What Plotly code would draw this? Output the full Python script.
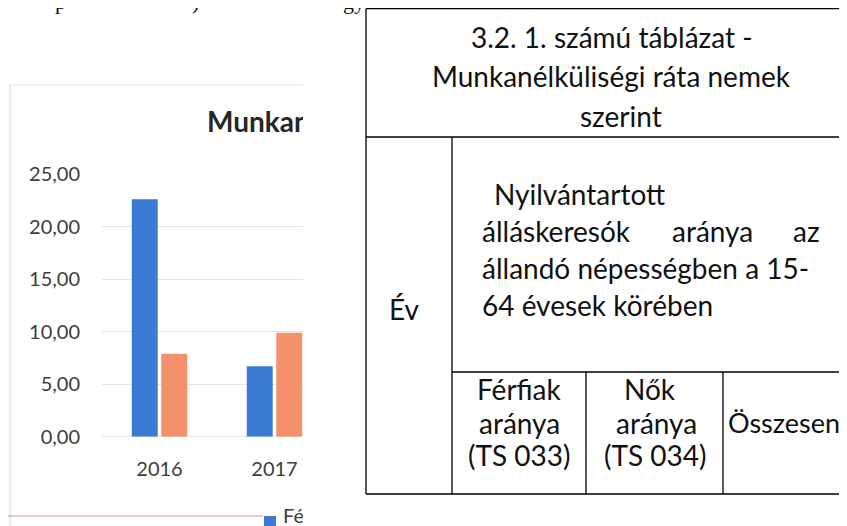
import plotly.graph_objects as go

W, H = 847, 526
OX, OY = 8, 8  # the page body margin shifts the figure; positions below are screen pixels

# ---------------- data ----------------
years = ["2016", "2017"]
male_rate = [22.6, 6.7]
female_rate = [7.9, 9.9]
series_names = ["Férfiak aránya", "Nők aránya"]
y_tick_vals = [0, 5, 10, 15, 20, 25]

chart_title = "Munkanélküliségi"  # only the start of the title is visible (the rest is hidden by the table)
table_title_lines = ["3.2. 1. számú táblázat -", "Munkanélküliségi ráta nemek", "szerint"]
year_header = "Év"
group_line1 = "Nyilvántartott"
group_line2_words = ["álláskeresók", "aránya", "az"]
group_line3 = "állandó népességben a 15-"
group_line4 = "64 évesek körében"
col_headers = [["Férfiak", "aránya", "(TS 033)"], ["Nők", "aránya", "(TS 034)"], ["Összesen"]]
top_fragments = ["p", ")", "gy"]

# ---------------- styles ----------------
BLUE = "#3b7bd4"
ORANGE = "#f3916a"
TXT = "#3d3d3d"
FONT = "Lato"


def px(x):
    return (x - OX) / W


def py(y):
    return 1 - (y - OY) / H


fig = go.Figure()

# bars
fig.add_trace(go.Bar(x=years, y=male_rate, name=series_names[0], marker=dict(color=BLUE, line_width=0),
                     xaxis="x", yaxis="y", showlegend=False))
fig.add_trace(go.Bar(x=years, y=female_rate, name=series_names[1], marker=dict(color=ORANGE, line_width=0),
                     xaxis="x", yaxis="y", showlegend=False))

# clipped chart text (title + legend fragment) on an overlay pixel axis
fig.add_trace(go.Scatter(x=[207], y=[124.5], mode="text", text=["<b>" + chart_title + "</b>"],
                         textposition="middle right", textfont=dict(family=FONT, size=28, color="#262626"),
                         xaxis="x2", yaxis="y2", showlegend=False, hoverinfo="skip", cliponaxis=True))
fig.add_trace(go.Scatter(x=[270], y=[522], mode="markers", marker=dict(symbol="square", size=12, color=BLUE),
                         xaxis="x2", yaxis="y2", showlegend=False, hoverinfo="skip", cliponaxis=True))
fig.add_trace(go.Scatter(x=[283], y=[518], mode="text", text=[series_names[0]],
                         textposition="middle right", textfont=dict(family=FONT, size=20, color=TXT),
                         xaxis="x2", yaxis="y2", showlegend=False, hoverinfo="skip", cliponaxis=True))

fig.update_layout(
    template="none",
    width=W, height=H,
    autosize=False,
    margin=dict(l=0, r=0, t=0, b=0, pad=0, autoexpand=False),
    paper_bgcolor="white", plot_bgcolor="rgba(0,0,0,0)",
    separators=", ",
    showlegend=False,
    barmode="group", bargap=0.487, bargroupgap=0.12,
    xaxis=dict(domain=[px(102), px(303)], type="category", range=[-0.5, 1.248], automargin=False,
               showgrid=False, zeroline=False, showline=False, ticks="",
               tickfont=dict(family=FONT, size=20, color=TXT), ticklabelstandoff=18, fixedrange=True),
    yaxis=dict(domain=[py(436.7), py(174)], range=[0, 25], tickvals=y_tick_vals, tickformat=".2f",
               automargin=False,
               showgrid=True, gridcolor="#e4e4e4", gridwidth=1, zeroline=True, zerolinecolor="#e4e4e4",
               zerolinewidth=1,
               showline=False, ticks="", tickfont=dict(family=FONT, size=20, color=TXT),
               ticklabelstandoff=21, fixedrange=True),
    xaxis2=dict(domain=[px(OX), px(303)], range=[OX, 303], visible=False, fixedrange=True, anchor="y2",
                automargin=False),
    yaxis2=dict(domain=[0, 1], range=[H + OY, OY], visible=False, fixedrange=True, anchor="x2",
                automargin=False),
)

shapes = []
# chart frame (scan)
shapes.append(dict(type="line", xref="paper", yref="paper", x0=px(10), x1=px(10), y0=py(85), y1=py(534),
                   line=dict(color="#d6d6d6", width=1)))
shapes.append(dict(type="line", xref="paper", yref="paper", x0=px(10), x1=px(303), y0=py(85), y1=py(85),
                   line=dict(color="#e2e2e2", width=1)))
shapes.append(dict(type="line", xref="paper", yref="paper", x0=px(0), x1=px(263), y0=py(516), y1=py(516),
                   line=dict(color="#d98e98", width=1)))

# table borders
LC = "#000000"
LW = 1.3


def hline(y, x0, x1):
    shapes.append(dict(type="line", xref="paper", yref="paper", x0=px(x0), x1=px(x1), y0=py(y), y1=py(y),
                       line=dict(color=LC, width=LW)))


def vline(x, y0, y1):
    shapes.append(dict(type="line", xref="paper", yref="paper", x0=px(x), x1=px(x), y0=py(y0), y1=py(y1),
                       line=dict(color=LC, width=LW)))


hline(8.7, 366, 855)
hline(137, 366, 855)
hline(372, 452, 855)
hline(494, 366, 855)
vline(366, 8.7, 494)
vline(452, 137, 494)
vline(586, 372, 494)
vline(723, 372, 494)
fig.update_layout(shapes=shapes)

anns = []
TS = 28


def ann(text, x, baseline, anchor="center", size=TS, family=FONT, color="#111111"):
    # vertical centre of the capitals of the reference text
    anns.append(dict(text=text, xref="paper", yref="paper", x=px(x), y=py(baseline - 9.3),
                     xanchor=anchor, yanchor="middle", showarrow=False, borderpad=0, borderwidth=0,
                     font=dict(family=family, size=size, color=color)))


ann(table_title_lines[0], 612, 46)
ann(table_title_lines[1], 611, 85)
ann(table_title_lines[2], 621, 125)
ann(year_header, 389, 318, anchor="left")
ann(group_line1, 494, 203, anchor="left")
ann(group_line2_words[0], 482, 240, anchor="left")
ann(group_line2_words[1], 712, 240, anchor="center")
ann(group_line2_words[2], 820, 240, anchor="right")
ann(group_line3, 482, 277, anchor="left")
ann(group_line4, 482, 314, anchor="left")
for line, b in zip(col_headers[0], [398, 432, 464]):
    ann(line, 519, b)
for line, b, cx in zip(col_headers[1], [398, 432, 464], [650, 656, 655]):
    ann(line, cx, b)
ann(col_headers[2][0], 728, 432, anchor="left", size=27)

# cut-off line of body text at the very top
for t, x in zip(top_fragments, [55, 192, 343]):
    anns.append(dict(text=t, xref="paper", yref="paper", x=px(x), y=py(9 - 0.3375 * 22),
                     xanchor="left", yanchor="middle", showarrow=False, borderpad=0, borderwidth=0,
                     font=dict(family="Liberation Serif", size=22, color="#111111")))
fig.update_layout(annotations=anns)

fig.write_html("out.html")
